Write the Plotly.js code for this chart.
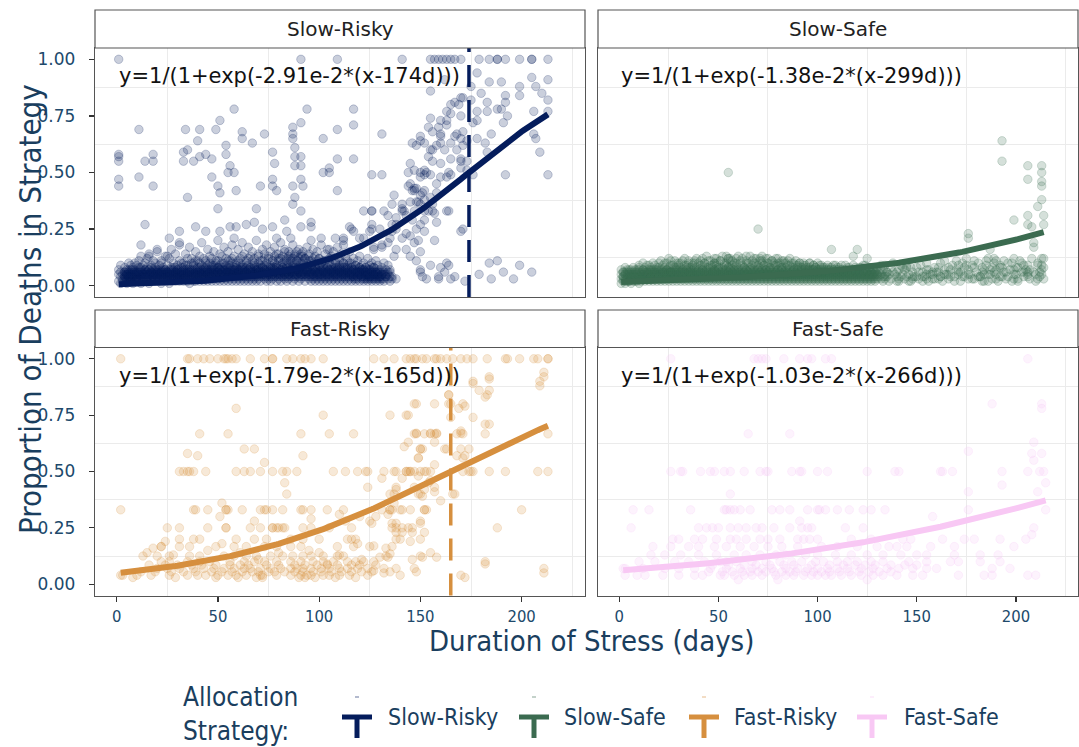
<!DOCTYPE html>
<html><head><meta charset="utf-8">
<script src="https://cdn.plot.ly/plotly-3.0.1.min.js"></script>
<style>html,body{margin:0;padding:0;background:#fff}</style>
</head><body><div id="chart" style="width:1079px;height:747px"></div>
<script>
const strategies = ['Slow-Risky','Slow-Safe','Fast-Risky','Fast-Safe'];
const colors = ['#041C5C','#3B6B50','#D68F3E','#F8C8F4'];
const rateText = ['2.91e-2','1.38e-2','1.79e-2','1.03e-2'];
const rateK = [0.0291,0.0138,0.0179,0.0103];
const midDay = [174,299,165,266];
const xTicks = [0,50,100,150,200];
const yTicks = [0,0.25,0.5,0.75,1];
const yTickLabels = ['0.00','0.25','0.50','0.75','1.00'];

// ---- Slow-Risky: [day, [proportions]] ----
const slowRiskyBand = [
[1,[.02,.05,.07]],[2,[.04,.01,.06,.09]],[3,[.03,.05,.02]],[4,[.06,.04,.08,.02]],[5,[.03,.05,.01,.07]],
[6,[.04,.02,.06,.1]],[7,[.05,.03,.07,.02]],[8,[.04,.06,.01,.08]],[9,[.03,.05,.07,.02]],[10,[.06,.04,.09,.03]],
[11,[.05,.02,.07,.04,.11]],[12,[.03,.06,.08,.01]],[13,[.04,.05,.02,.09]],[14,[.06,.03,.07,.05]],[15,[.02,.04,.08,.06,.12]],
[16,[.05,.03,.07,.01]],[17,[.04,.06,.09,.02]],[18,[.03,.05,.07,.04]],[19,[.06,.02,.08,.05,.1]],[20,[.04,.07,.03,.06]],
[21,[.05,.02,.09,.04]],[22,[.03,.06,.07,.01,.11]],[23,[.05,.04,.08,.02]],[24,[.06,.03,.07,.05]],[25,[.04,.02,.09,.06,.13]],
[26,[.05,.07,.03,.01]],[27,[.04,.06,.08,.02]],[28,[.03,.05,.07,.1]],[29,[.06,.04,.02,.08]],[30,[.05,.03,.07,.09,.04]],
[31,[.04,.06,.02,.11]],[32,[.05,.08,.03,.06]],[33,[.04,.02,.07,.05,.1]],[34,[.06,.03,.09,.04]],[35,[.05,.07,.02,.12]],
[36,[.03,.06,.08,.04,.01]],[37,[.05,.04,.07,.1]],[38,[.06,.02,.09,.03]],[39,[.04,.07,.05,.11,.02]],[40,[.05,.03,.08,.06]],
[41,[.04,.06,.02,.1,.13]],[42,[.05,.07,.03,.09]],[43,[.06,.04,.08,.02]],[44,[.03,.05,.07,.11,.04]],[45,[.06,.02,.09,.05]],
[46,[.04,.07,.03,.1]],[47,[.05,.06,.08,.02,.12]],[48,[.03,.04,.07,.09]],[49,[.06,.05,.02,.1]],[50,[.04,.08,.03,.06,.11]],
[51,[.05,.07,.02,.09]],[52,[.06,.03,.08,.04,.13]],[53,[.05,.02,.07,.1]],[54,[.04,.06,.09,.03]],[55,[.05,.08,.02,.11,.06]],
[56,[.07,.03,.04,.09]],[57,[.05,.06,.02,.1,.12]],[58,[.04,.08,.03,.07]],[59,[.06,.05,.09,.02]],[60,[.04,.07,.03,.11,.06]],
[61,[.05,.08,.02,.1]],[62,[.06,.04,.09,.03,.13]],[63,[.05,.07,.02,.08]],[64,[.04,.06,.1,.03]],[65,[.07,.05,.09,.02,.12]],
[66,[.04,.06,.08,.03]],[67,[.05,.07,.11,.02]],[68,[.06,.04,.09,.03,.1]],[69,[.05,.08,.02,.07]],[70,[.04,.06,.1,.03,.13]],
[71,[.07,.05,.09,.02]],[72,[.04,.08,.06,.11]],[73,[.05,.03,.09,.07,.14]],[74,[.06,.04,.1,.02]],[75,[.05,.08,.03,.12]],
[76,[.07,.04,.09,.06,.02]],[77,[.05,.08,.03,.11]],[78,[.06,.04,.1,.07,.13]],[79,[.05,.09,.02,.08]],[80,[.06,.04,.11,.03,.14]],
[81,[.07,.05,.09,.02,.12]],[82,[.04,.08,.06,.1]],[83,[.05,.03,.11,.07,.15]],[84,[.06,.09,.04,.12,.02]],[85,[.05,.08,.1,.03,.13]],
[86,[.07,.04,.11,.06,.14]],[87,[.05,.09,.02,.12,.08]],[88,[.06,.04,.1,.13,.03]],[89,[.07,.05,.11,.08,.15]],[90,[.04,.09,.06,.12,.02]],
[91,[.05,.08,.1,.03,.14]],[92,[.06,.04,.11,.07,.13]],[93,[.05,.09,.02,.12]],[94,[.07,.04,.1,.06]],[95,[.05,.08,.11,.03,.13]],
[96,[.06,.04,.09,.02]],[97,[.05,.07,.1,.03,.12]],[98,[.06,.04,.08,.02]],[99,[.05,.07,.11,.03]],[100,[.04,.06,.09,.02,.12]],
[101,[.05,.08,.03,.1]],[102,[.06,.04,.09,.02]],[103,[.05,.07,.11,.03]],[104,[.04,.08,.06,.02]],[105,[.05,.03,.1,.07]],
[106,[.06,.04,.09,.02,.12]],[107,[.05,.07,.03,.08]],[108,[.04,.06,.1,.02]],[109,[.05,.08,.03,.07]],[110,[.06,.04,.09,.02,.11]],
[111,[.05,.07,.03,.08]],[112,[.04,.06,.02,.1]],[113,[.05,.08,.03,.06]],[114,[.06,.04,.09,.02]],[115,[.05,.07,.03,.1]],
[116,[.04,.06,.02,.08]],[117,[.05,.03,.07,.04]],[118,[.06,.02,.09,.05]],[119,[.04,.07,.03,.06]],[120,[.05,.02,.08,.06]],
[121,[.04,.06,.03,.07]],[122,[.05,.02,.07,.04]],[123,[.03,.06,.08,.05]],[124,[.05,.02,.04,.07]],[125,[.04,.07,.03,.06]],
[126,[.05,.02,.06,.08]],[127,[.03,.05,.08]],[128,[.04,.02,.06]],[129,[.05,.03,.07]],[130,[.04,.02]],
[131,[.03,.06]],[132,[.05,.02]],[133,[.04,.07]],[134,[.03,.05]],[135,[.02,.06]],[136,[.04]],[138,[.03]]
];
const slowRiskyBand2 = [
[4,[.05,.03,.06,.04]],[5,[.04,.06,.02,.05]],[6,[.05,.03,.07,.04]],[7,[.06,.04,.05,.09]],[8,[.03,.05,.07,.04]],
[9,[.05,.04,.06,.1]],[10,[.04,.06,.03,.05]],[11,[.05,.03,.06,.08]],[12,[.04,.07,.05,.13]],[13,[.06,.03,.05,.04]],
[14,[.05,.04,.07,.1]],[15,[.03,.06,.05,.04]],[16,[.05,.07,.04,.14]],[17,[.06,.03,.05,.08]],[18,[.04,.06,.05,.11]],
[19,[.05,.03,.07,.04]],[20,[.06,.04,.05,.15]],[21,[.03,.06,.07,.05]],[22,[.05,.04,.06,.1]],[23,[.06,.03,.05,.07]],
[24,[.04,.05,.07,.13]],[25,[.05,.06,.03,.04]],[26,[.06,.04,.05,.12]],[27,[.05,.07,.03,.16]],[28,[.04,.06,.05,.08]],
[29,[.05,.03,.06,.14]],[30,[.06,.05,.04,.07]],[31,[.04,.07,.05,.18]],[32,[.05,.04,.06,.1]],[33,[.06,.03,.05,.08]],
[34,[.05,.07,.04,.14]],[35,[.04,.06,.05,.09]],[36,[.06,.05,.07,.17]],[37,[.05,.03,.06,.12]],[38,[.04,.07,.05,.1]],
[39,[.06,.05,.04,.15]],[40,[.05,.07,.06,.11]],[41,[.04,.05,.07,.08]],[42,[.06,.04,.05,.19]],[43,[.05,.07,.03,.12]],
[44,[.04,.06,.08,.1]],[45,[.06,.05,.07,.16]],[46,[.05,.04,.06,.13]],[47,[.07,.05,.04,.09]],[48,[.05,.06,.08,.15]],
[49,[.04,.07,.05,.11]],[50,[.06,.05,.08,.2]],[51,[.05,.04,.07,.14]],[52,[.07,.06,.05,.1]],[53,[.05,.08,.04,.17]],
[54,[.06,.05,.07,.12]],[55,[.04,.07,.06,.15]],[56,[.06,.05,.08,.11]],[57,[.05,.07,.04,.18]],[58,[.07,.06,.05,.13]],
[59,[.05,.08,.04,.1]],[60,[.06,.05,.07,.16]],[61,[.05,.07,.04,.12]],[62,[.07,.06,.08,.19]],[63,[.05,.04,.06,.14]],
[64,[.06,.08,.05,.11]],[65,[.05,.07,.04,.17]],[66,[.07,.06,.08,.13]],[67,[.05,.04,.06,.15]],[68,[.06,.08,.05,.12]],
[69,[.05,.07,.04,.2]],[70,[.07,.06,.08,.14]],[71,[.05,.04,.06,.11]],[72,[.06,.08,.05,.16]],[73,[.05,.07,.04,.12]],
[74,[.07,.06,.08,.18]],[75,[.05,.04,.06,.13]],[76,[.06,.08,.05,.15]],[77,[.05,.07,.04,.11]],[78,[.07,.06,.08,.17]],
[79,[.05,.04,.06,.14]],[80,[.06,.08,.05,.12]],[81,[.05,.07,.04,.19]],[82,[.07,.06,.08,.13]],[83,[.05,.04,.06,.16]],
[84,[.06,.08,.05,.11]],[85,[.05,.07,.04,.15]],[86,[.07,.06,.08,.12]],[87,[.05,.04,.06,.18]],[88,[.06,.08,.05,.14]],
[89,[.05,.07,.04,.11]],[90,[.07,.06,.08,.16]],[91,[.05,.04,.06,.13]],[92,[.06,.08,.05,.15]],[93,[.05,.07,.04,.12]],
[94,[.07,.06,.08,.17]],[95,[.05,.04,.06,.14]],[96,[.06,.08,.05,.11]],[97,[.05,.07,.04,.16]],[98,[.07,.06,.08,.13]],
[99,[.05,.04,.06,.15]],[100,[.06,.08,.05,.12]],[101,[.05,.07,.04,.18]],[102,[.07,.06,.08,.11]],[103,[.05,.04,.06,.14]],
[104,[.06,.08,.05,.16]],[105,[.05,.07,.04,.12]],[106,[.07,.06,.08,.13]],[107,[.05,.04,.06,.15]],[108,[.06,.08,.05,.11]],
[109,[.05,.07,.04,.17]],[110,[.07,.06,.08,.12]],[111,[.05,.04,.06,.14]],[112,[.06,.08,.05,.1]],[113,[.05,.07,.04,.13]],
[114,[.07,.06,.08,.11]],[115,[.05,.04,.06,.15]],[116,[.06,.08,.05,.1]],[117,[.05,.07,.04,.12]],[118,[.07,.06,.03,.09]],
[119,[.05,.04,.06,.11]],[120,[.06,.08,.05,.13]],[121,[.05,.07,.04,.09]],[122,[.07,.06,.03,.1]],[123,[.05,.04,.06,.08]],
[124,[.06,.03,.05,.12]],[125,[.05,.07,.04,.09]],[126,[.04,.06,.03,.1]],[127,[.05,.04,.06,.08]],[128,[.06,.03,.05,.11]],
[129,[.05,.04,.06,.09]],[130,[.04,.06,.03,.07]],[131,[.05,.04,.08]],[132,[.06,.03,.1]],[133,[.05,.04]],[134,[.06,.09]],[135,[.04,.07]]
];
const slowRiskyScatter = [
[1,[1,.58,.57,.55,.47,.44]],[11,[.69,.48]],[12,[.18]],[14,[.55,.27]],[16,[.13]],[18,[.58,.55,.44]],[20,[.16]],
[26,[.21]],[31,[.24,.19]],[33,[.59,.55]],[34,[.69]],[35,[.6,.39]],[38,[.55]],[39,[.26]],[40,[.64]],[41,[.69,.57]],
[44,[.58,.24]],[47,[.56,.48]],[49,[.69]],[50,[.44,.34]],[51,[.73,.41,.24]],[54,[.62,.58]],[55,[.5]],[56,[.53,.26]],
[58,[.78,.5,.21]],[59,[.42,.26]],[62,[.68,.65]],[64,[.27]],[67,[.63]],[68,[.28]],[69,[.34]],[71,[.44]],[72,[.25]],
[73,[.67]],[77,[.59,.47,.44,.26]],[78,[.54]],[79,[.42,.21]],[83,[.29]],[84,[.24]],[86,[.21]],[87,[.7,.67,.65,.44,.36]],
[88,[.61,.57,.53,.39]],[91,[1,.72,.57,.53,.47,.33,.26]],[92,[.44]],[94,[.78]],[96,[.28,.26,.2]],[101,[.21]],
[102,[.65,.5]],[105,[.5,.52,.16]],[108,[.21]],[109,[1,.69,.56,.42]],[112,[.18,.2,.21]],[115,[.26]],[116,[.25]],
[117,[.78,.71,.56,.24]],[120,[.21]],[122,[.33,.21]],[125,[.24]],[126,[.33,.49,.33,.25,.27]],[127,[.16,.17]],
[130,[.25]],[131,[.67,.49,.18,.05,.17]],[132,[.33]],[134,[.19,.31]],[135,[.21]],[136,[.24,.03,.36,.27]],[137,[.13,.4]],
[138,[.3,.16,.25,.27]],[141,[1,.34,.21,.33,.36]],[142,[.33]],[143,[.31,.23,.16]],[144,[.44,.5]],[145,[.54,.37,.22,.13,.45]],
[146,[.63,.42,.29]],[147,[.51,.43,.33,.19,.42]],[148,[.62,.25,.37,.43,.11]],[149,[.37,.2]],
[150,[.64,.48,.4,.27,.15,.06,.66,.5,.36,.07]],[151,[.41,.04]],[152,[.63,.49,.42,.33,.51,.38,.29,.24]],[153,[.03,.5]],
[154,[.57,.7,.33]],[155,[1,.86,.74,.6,.49,.39,.09]],[156,[.55,.68,.33,.36,.6]],[157,[1,.2,.32]],[158,[.62,.45,.28,.41]],
[159,[1,.03,.7,.04]],[160,[.73,.66,.54,.48,.67,.63,.08]],[161,[1]],[162,[.91,.6,.06]],
[163,[1,.77,.71,.48,.33,.1,.73]],[164,[.33,.5,.09]],[165,[1,.8,.56,.49,.03,.76,.63]],[167,[1,.81,.66,.04]],[168,[.67,.6]],
[169,[.8]],[170,[1,.83,.75,.65,.56,.52,.24,.55]],[171,[.68,.62,.83,.25]],[172,[.02]],[173,[.64,.55,.51]],
[175,[.88,.82]],[176,[.72,.49]],[178,[.94,.77,.73,.65]],[179,[1,.05]],[180,[.85]],[182,[.63]],[183,[.81,.77,.59]],
[184,[1,.9,.1]],[185,[.67,.03]],[188,[1,1,.78,.11]],[190,[.9,.78]],[191,[.72,.06]],[192,[1,.84,.81,.49]],[193,[.75]],
[196,[.03]],[199,[1,.88,.84,.09]],[205,[1,1,.92,.06]],[206,[.77,.67]],[207,[.88,.65]],[209,[.59]],[210,[.85]],
[213,[1,.91,.82,.77,.49]]
];

// ---- Slow-Safe ----
const slowSafeBand = [
[1,[.03,.05,.01,.07]],[2,[.04,.02,.06]],[3,[.05,.03,.08,.01]],[4,[.02,.04,.06]],[5,[.05,.03,.07,.02]],
[6,[.04,.06,.01]],[7,[.03,.05,.08,.02]],[8,[.04,.06,.03]],[9,[.02,.05,.07,.04]],[10,[.03,.06,.01,.08]],
[11,[.05,.02,.04]],[12,[.06,.03,.07,.05]],[13,[.04,.02,.08]],[14,[.05,.03,.06,.09]],[15,[.02,.04,.07]],
[16,[.05,.06,.03,.08]],[17,[.04,.02,.07]],[18,[.05,.03,.09,.06]],[19,[.04,.07,.02]],[20,[.05,.03,.08,.06,.1]],
[21,[.04,.02,.07]],[22,[.06,.05,.03,.09]],[23,[.04,.08,.02,.06]],[24,[.05,.03,.07,.1]],[25,[.04,.06,.02,.08]],
[26,[.05,.03,.09,.06,.11]],[27,[.04,.07,.02]],[28,[.06,.03,.08,.05]],[29,[.04,.02,.07,.1]],[30,[.05,.06,.03,.09]],
[31,[.04,.08,.02,.06]],[32,[.05,.03,.07,.11]],[33,[.06,.04,.02,.09]],[34,[.05,.07,.03,.08]],[35,[.04,.06,.02,.1]],
[36,[.05,.03,.08,.06]],[37,[.04,.07,.02,.09]],[38,[.06,.05,.03,.11]],[39,[.04,.08,.02,.06]],[40,[.05,.03,.07,.1]],
[41,[.06,.04,.02,.09]],[42,[.05,.07,.03,.08,.12]],[43,[.04,.06,.02,.1]],[44,[.05,.03,.08,.06]],[45,[.04,.07,.02,.11]],
[46,[.06,.05,.03,.09]],[47,[.04,.08,.02,.06]],[48,[.05,.03,.07,.1]],[49,[.06,.04,.02,.09,.12]],[50,[.05,.07,.03,.08]],
[51,[.04,.06,.02,.11]],[52,[.05,.03,.08,.06]],[53,[.04,.07,.02,.1]],[54,[.06,.05,.03,.09,.13]],[55,[.04,.08,.02,.06]],
[56,[.05,.03,.07,.11]],[57,[.06,.04,.02,.09]],[58,[.05,.07,.03,.08]],[59,[.04,.06,.02,.1,.12]],[60,[.05,.03,.08,.06]],
[61,[.04,.07,.02,.11]],[62,[.06,.05,.03,.09]],[63,[.04,.08,.02,.06]],[64,[.05,.03,.07,.1,.13]],[65,[.06,.04,.02,.09]],
[66,[.05,.07,.03,.08]],[67,[.04,.06,.02,.11]],[68,[.05,.03,.08,.06,.12]],[69,[.04,.07,.02,.1]],[70,[.06,.05,.03,.09]],
[71,[.04,.08,.02,.06]],[72,[.05,.03,.07,.11,.13]],[73,[.06,.04,.02,.09]],[74,[.05,.07,.03,.08]],[75,[.04,.06,.02,.1,.12]],
[76,[.05,.03,.08,.06]],[77,[.04,.07,.02,.11]],[78,[.06,.05,.03,.09]],[79,[.04,.08,.02,.06,.12]],[80,[.05,.03,.07,.1]],
[81,[.06,.04,.02,.09]],[82,[.05,.07,.03,.08,.11]],[83,[.04,.06,.02,.1]],[84,[.05,.03,.08,.06]],[85,[.04,.07,.02,.11]],
[86,[.06,.05,.03,.09]],[87,[.04,.08,.02,.06]],[88,[.05,.03,.07,.1]],[89,[.06,.04,.02,.09]],[90,[.05,.07,.03,.08]],
[91,[.04,.06,.02,.1]],[92,[.05,.03,.08,.06]],[93,[.04,.07,.02,.09]],[94,[.06,.05,.03,.08]],[95,[.04,.07,.02,.06]],
[96,[.05,.03,.08,.1]],[97,[.06,.04,.02,.07]],[98,[.05,.07,.03,.09]],[99,[.04,.06,.02,.08]],[100,[.05,.03,.07,.06]],
[101,[.04,.06,.02,.09]],[102,[.06,.05,.03,.08]],[103,[.04,.07,.02,.06]],[104,[.05,.03,.08]],[105,[.06,.04,.02,.07]],
[106,[.05,.07,.03]],[107,[.04,.06,.02,.08]],[108,[.05,.03,.07]],[109,[.06,.04,.02,.09]],[110,[.05,.07,.03]],
[111,[.04,.06,.02,.08]],[112,[.05,.03,.07]],[113,[.06,.04,.02]],[114,[.05,.07,.03,.09]],[115,[.04,.06,.02]],
[116,[.05,.03,.08]],[117,[.04,.06,.02]],[118,[.05,.07,.03]],[119,[.04,.06,.02,.08]],[120,[.05,.03,.07]],
[121,[.04,.06,.02]],[122,[.05,.03,.08]],[123,[.04,.06,.02]],[124,[.05,.07,.03]],[125,[.04,.02,.06]],
[126,[.05,.03,.08]],[127,[.04,.06,.02]],[128,[.05,.03,.07]],[129,[.04,.02,.06]],[130,[.05,.03,.08]],
[131,[.04,.06]],[132,[.03,.05]],[133,[.04,.07,.02]],[134,[.05,.03]],[135,[.04,.06]],
[137,[.03,.08]],[139,[.05]],[140,[.02,.06]],[142,[.04,.09]],[144,[.03,.07]],[146,[.05]],[147,[.02,.08]],[149,[.04]],
[151,[.06,.03]],[152,[.09]],[154,[.04]],[156,[.07,.02]],[157,[.05]],[159,[.03,.08]],[160,[.06]],[162,[.04,.1]],
[163,[.02]],[164,[.07]],[166,[.05,.03]],[168,[.09]],[169,[.04]],[170,[.07]],[172,[.02,.06]],[174,[.08,.04]],
[175,[.12]],[177,[.05]],[178,[.03,.09]],[180,[.06]],[181,[.1]],[182,[.04]],[184,[.07,.02]],[185,[.11]],[186,[.05]],
[188,[.03,.08]],[189,[.1]],[190,[.05]],[191,[.02]],[192,[.09,.04]],[194,[.06,.11]],[195,[.03]],[197,[.07]],
[198,[.02,.1]],[200,[.05,.08]],[201,[.03]],[202,[.11]],[203,[.06]],[204,[.04,.09]],[207,[.03,.07]],[208,[.12]],
[210,[.05,.02]],[211,[.09]],[212,[.06,.04]],[214,[.08]]
];
const slowSafeBand2 = [
[2,[.04,.06,.03]],[3,[.05,.02,.06]],[4,[.03,.05,.07]],[5,[.04,.06,.02,.05]],[6,[.05,.03,.07,.04]],[7,[.04,.06,.05]],
[8,[.05,.02,.07,.04]],[9,[.03,.06,.05]],[10,[.05,.04,.07,.09]],[11,[.06,.03,.05,.04]],[12,[.04,.07,.05,.1]],
[13,[.05,.06,.03,.04]],[14,[.04,.05,.07,.06]],[15,[.06,.03,.05,.09]],[16,[.04,.07,.05,.04]],[17,[.05,.06,.03,.1]],
[18,[.04,.05,.07,.06]],[19,[.06,.03,.05,.08]],[20,[.04,.07,.05,.04]],[21,[.05,.06,.03,.11]],[22,[.04,.05,.07,.06]],
[23,[.06,.03,.05,.1]],[24,[.04,.07,.05,.06]],[25,[.05,.06,.03,.12]],[26,[.04,.05,.07,.06]],[27,[.06,.03,.05,.09]],
[28,[.04,.07,.05,.11]],[29,[.05,.06,.03,.08]],[30,[.04,.05,.07,.06]],[31,[.06,.03,.05,.1]],[32,[.04,.07,.05,.06]],
[33,[.05,.06,.03,.12]],[34,[.04,.05,.07,.09]],[35,[.06,.03,.05,.11]],[36,[.04,.07,.05,.06]],[37,[.05,.06,.03,.1]],
[38,[.04,.05,.07,.08]],[39,[.06,.03,.05,.12]],[40,[.04,.07,.05,.06]],[41,[.05,.06,.03,.11]],[42,[.04,.05,.07,.09]],
[43,[.06,.03,.05,.1]],[44,[.04,.07,.05,.13]],[45,[.05,.06,.03,.08]],[46,[.04,.05,.07,.11]],[47,[.06,.03,.05,.09]],
[48,[.04,.07,.05,.12]],[49,[.05,.06,.03,.1]],[50,[.04,.05,.07,.08]],[51,[.06,.03,.05,.11]],[52,[.04,.07,.05,.13]],
[53,[.05,.06,.03,.09]],[54,[.04,.05,.07,.1]],[55,[.06,.03,.05,.12]],[56,[.04,.07,.05,.08]],[57,[.05,.06,.03,.11]],
[58,[.04,.05,.07,.1]],[59,[.06,.03,.05,.09]],[60,[.04,.07,.05,.13]],[61,[.05,.06,.03,.1]],[62,[.04,.05,.07,.12]],
[63,[.06,.03,.05,.08]],[64,[.04,.07,.05,.11]],[65,[.05,.06,.03,.1]],[66,[.04,.05,.07,.13]],[67,[.06,.03,.05,.09]],
[68,[.04,.07,.05,.1]],[69,[.05,.06,.03,.12]],[70,[.04,.05,.07,.08]],[71,[.06,.03,.05,.11]],[72,[.04,.07,.05,.1]],
[73,[.05,.06,.03,.09]],[74,[.04,.05,.07,.12]],[75,[.06,.03,.05,.1]],[76,[.04,.07,.05,.08]],[77,[.05,.06,.03,.11]],
[78,[.04,.05,.07,.1]],[79,[.06,.03,.05,.09]],[80,[.04,.07,.05,.12]],[81,[.05,.06,.03,.1]],[82,[.04,.05,.07,.08]],
[83,[.06,.03,.05,.11]],[84,[.04,.07,.05,.1]],[85,[.05,.06,.03,.09]],[86,[.04,.05,.07,.12]],[87,[.06,.03,.05,.1]],
[88,[.04,.07,.05,.08]],[89,[.05,.06,.03,.11]],[90,[.04,.05,.07,.09]],[91,[.06,.03,.05,.1]],[92,[.04,.07,.05,.08]],
[93,[.05,.06,.03,.1]],[94,[.04,.05,.07,.09]],[95,[.06,.03,.05,.08]],[96,[.04,.07,.05,.1]],[97,[.05,.06,.03,.07]],
[98,[.04,.05,.07,.09]],[99,[.06,.03,.05,.08]],[100,[.04,.07,.05,.1]],[101,[.05,.06,.03,.07]],[102,[.04,.05,.07,.09]],
[103,[.06,.03,.05,.08]],[104,[.04,.07,.05,.06]],[105,[.05,.06,.03,.09]],[106,[.04,.05,.07,.08]],[107,[.06,.03,.05]],
[108,[.04,.07,.05,.09]],[109,[.05,.06,.03]],[110,[.04,.05,.07,.08]],[111,[.06,.03,.05]],[112,[.04,.07,.05,.09]],
[113,[.05,.06,.03]],[114,[.04,.05,.07]],[115,[.06,.03,.05,.08]],[116,[.04,.07,.05]],[117,[.05,.06,.03]],
[118,[.04,.05,.07,.09]],[119,[.06,.03,.05]],[120,[.04,.07,.05]],[121,[.05,.06,.03,.08]],[122,[.04,.05,.07]],
[123,[.06,.03,.05]],[124,[.04,.07,.05,.09]],[125,[.05,.06,.03]],[126,[.04,.05,.07]],[127,[.06,.03,.05,.08]],
[128,[.04,.07,.05]],[129,[.05,.06,.03]],[130,[.04,.05,.07]],
[132,[.07]],[134,[.04,.09]],[136,[.05,.02]],[138,[.06,.1]],[141,[.03,.07]],[143,[.05]],[145,[.04,.09]],[148,[.06,.03]],
[150,[.08]],[153,[.04,.02]],[155,[.07,.1]],[158,[.05]],[161,[.03,.08]],[164,[.05,.11]],[167,[.04,.07]],[169,[.02]],
[171,[.06,.09]],[173,[.04]],[176,[.05,.03]],[179,[.08,.11]],[181,[.04]],[183,[.06,.02]],[185,[.09]],[187,[.05,.07]],
[190,[.11]],[193,[.04,.08]],[195,[.06]],[196,[.1]],[199,[.05]],[201,[.08,.02]],[203,[.1]],[205,[.07]],[206,[.09,.04]],
[209,[.06]],[211,[.03,.1]],[213,[.05,.12]]
];
const slowSafeScatter = [
[26,[.06]],[30,[.1]],[35,[.08]],[38,[.1]],[48,[.1,.06]],[55,[.5,.12,.08]],[56,[.12]],[70,[.25]],[71,[.12]],
[107,[.16]],[118,[.13]],[120,[.16]],[123,[.09]],[125,[.12]],[126,[.08]],[132,[.09]],[135,[.06]],[140,[.04]],
[141,[.02]],[143,[.08]],[145,[.08]],[146,[.02]],[148,[.04]],[150,[.04]],[153,[.06]],[155,[.05,.03]],
[158,[.06,.03]],[161,[.06]],[162,[.04]],[165,[.05]],[166,[.08]],[170,[.11]],[171,[.05]],[173,[.1]],[175,[.09]],
[176,[.23,.21,.07]],[179,[.03]],[182,[.04]],[183,[.08]],[184,[.05]],[186,[.12,.02]],[187,[.16]],[189,[.12,.06]],
[190,[.07,.03]],[192,[.08]],[193,[.64,.55]],[196,[.04]],[199,[.29,.12,.07,.03]],[204,[.06]],
[206,[.53,.47,.31,.27,.06,.05]],[208,[.26]],[209,[.19,.17]],[211,[.35]],[213,[.53,.5,.46,.44,.38,.09,.07]],
[214,[.31,.27,.12,.03]]
];

// ---- Fast-Risky ----
const fastRiskyPts = [
[2,[1,.33,.04]],[3,[.04]],[8,[.03]],[10,[.04]],[12,[.055]],[13,[.125]],[15,[.14]],[16,[.085]],[17,[.04]],
[18,[.16]],[19,[.055]],[20,[.125,.07]],[22,[.167,.167,.1]],[24,[.19,.085]],[25,[.25,.07]],[26,[.125,.1,.04]],
[27,[.055]],[28,[.13]],[29,[.03]],[30,[.085]],[31,[.5,.25,.2,.167,.07]],[33,[.5,.055]],[35,[1,.58,.5,.1,.04]],
[36,[1,.5,.167,.125]],[37,[.085]],[38,[.5,.33,.2,.07]],[39,[.33,.055]],[40,[1,.57,.04]],[41,[.667,.2,.125,.1]],
[42,[.085]],[43,[1,.07]],[44,[.5,.04]],[45,[.33,.25,.15]],[46,[1,.1]],[47,[.055]],[48,[.07]],[49,[.167,.085,.03]],
[50,[1,.04]],[51,[.3]],[52,[.36,.18,.055]],[53,[1,.125,.07]],[54,[1,.33,.33,.25,.25]],[55,[1,.667,.33,.04]],
[56,[.1,.085]],[57,[1,.055]],[58,[.167,.125,.07]],[59,[1,.78,.5,.2,.04]],[60,[.03]],[61,[.14,.085]],
[62,[.33,.055]],[63,[.6,.5,.1,.07]],[64,[.167,.125,.04]],[65,[.085]],[66,[1,.5,.25,.07]],[67,[.055]],
[68,[.6,.28,.2,.1]],[69,[.125,.03]],[70,[.11,.055]],[71,[.5,.33,.25,.07,.04]],[72,[.04,.03]],[73,[1,.54,.33,.167,.1]],
[74,[.33,.2,.085]],[75,[.055]],[76,[.125,.07]],[77,[1,1,.5,.33,.25,.25]],[78,[.055]],[79,[.25,.167,.1,.04]],
[80,[.25,.14,.085]],[81,[.07]],[82,[.5,.33,.25,.125]],[83,[.25,.45,.055]],[84,[1,.5,.4]],[86,[.2,.167,.1,.07,.04]],
[87,[1,.125]],[88,[.055,.085]],[89,[.5,.07]],[90,[.03]],[91,[1,.667,.33,.167,.1,.04]],[92,[.57,.33,.25,.2,.125,.07,.055]],
[93,[1,.085,.03]],[94,[.04]],[95,[.15]],[96,[1,.33,.29,.25,.125,.07,.04]],[97,[.1,.055]],[98,[.03]],[99,[.085]],
[100,[.2,.14]],[101,[.07,.055]],[102,[1,.75,.125,.1,.04]],[104,[.33,.09,.085]],[105,[.667,.25,.07,.04]],
[106,[.055]],[107,[.5,.1]],[108,[.03]],[109,[.167,.125,.085]],[110,[.31,.13,.07,.04]],[111,[.055]],
[112,[.33,.125]],[113,[.5,.28]],[114,[.2,.1,.07]],[115,[.04]],[116,[.25,.2,.085,.055]],[117,[.667,.167]],
[118,[.2,.1,.03]],[119,[.5,.18,.07]],[120,[.3,.085]],[121,[.11,.055]],[122,[.1]],[123,[.5]],[124,[.5,.43,.07,.04]],
[125,[.167,.28]],[126,[.27,.055]],[127,[1,.17,.1,.06]],[128,[.3,.085]],[130,[.12]],[131,[.47,.33]],
[132,[1,.5,.07,.05]],[133,[.125,.16]],[134,[.31,.12]],[135,[.75,.4,.33,.33,.135,.055]],[136,[.25,.167,.27,.33]],
[137,[1,.5,.36,.4]],[138,[.5,.43,.25,.2,.07,.27,.42,.23]],[140,[.33,.2,.04]],[141,[.25,.23,.47,.33]],
[142,[.61]],[143,[1,.75,.5,.5]],[144,[.63,.5,.25,.75]],[145,[1,.5,.33,.19,.5]],[146,[.25,.11,.23]],
[147,[1,.8,.667,.5,.07,.43]],[148,[1,.667,.8,.67,.055]],[149,[.56,.4,.48,.56]],[150,[.5,.28,.2,.125,.6,.4,.27,.6]],
[151,[1,.6,.39,.12]],[152,[.667,.5,.33,.42,.23,.33]],[153,[1,.33,.5]],[154,[.45]],[155,[.667,.5,.46,.14,.67]],
[157,[1,.667,.8,.53,.43,.41,.63]],[158,[1,.667,.12,.67]],[160,[1,.37]],[162,[.6]],[163,[1,.6]],
[164,[.84,.8,.84]],[165,[.74,.8]],[166,[1,.4]],[167,[.4]],[168,[.667,.57]],[169,[.78]],[170,[1,.68,.6,.04,.67]],
[171,[.667,.5,.56,.8]],[172,[.79,.57,.03]],[173,[1]],[174,[.6,.5]],[175,[.5]],[176,[1,.89,.74,.5,.9]],
[179,[.86]],[182,[.83,.667,.1,.09,.71]],[183,[1,.84]],[184,[.91,.86,.71,.5,.92]],[188,[.25]],[192,[1,.5]],
[193,[1]],[199,[1]],[200,[.33]],[206,[1]],[208,[1,.5]],[209,[.88,.9]],[211,[.92,.94,.07,.05]],[213,[1,1,.667,.5]]
];

// ---- Fast-Safe ----
const fastSafePts = [
[2,[.07]],[3,[.07,.04]],[6,[.25]],[7,[.33]],[9,[.04]],[10,[.1]],[12,[.07]],[13,[.04]],[15,[.33]],[16,[.13]],
[17,[.167]],[18,[.1]],[22,[.04]],[23,[.13,.07]],[26,[1,.5,.167]],[27,[.2]],[28,[.1]],[30,[.2,.07,.04]],
[31,[.5,.13]],[32,[.5]],[35,[.167,.1]],[36,[.33]],[38,[.2,.07,.04]],[40,[.25,.167,.13]],[41,[.5]],[42,[.2,.04]],
[43,[.1]],[44,[.25]],[45,[.055]],[46,[.5,.07]],[47,[.25,.085]],[48,[.5,.167]],[49,[.2,.13]],[50,[.25]],
[51,[.1,.04]],[52,[.055]],[53,[.5,.33,.04]],[54,[.33,.167,.1,.07]],[55,[.085]],[56,[.5,.4,.33,.25,.2]],
[57,[.055]],[58,[.33,.13,.04]],[59,[.2,.1]],[60,[.25,.02]],[61,[.33,.167,.07]],[62,[.055]],[63,[.5,.04,.085]],
[64,[.25,.2,.13]],[65,[.667]],[66,[.33,.055]],[67,[.1,.07,.04]],[68,[1,.167]],[69,[.25,.085]],[70,[1,.055]],
[71,[.5,.2,.13]],[72,[1,.25,.07,.04]],[74,[1,.5,.1,.055]],[75,[.5,.2,.167]],[76,[.085]],[77,[.33,.07]],
[78,[.25,.055]],[79,[.13,.04]],[80,[.02]],[81,[.33,.2,.1]],[82,[.167,.055]],[83,[1,.085]],[84,[.13,.07,.04]],
[86,[.667,.33,.25,.055]],[87,[.5,.1]],[88,[.04,.085]],[89,[.055]],[90,[.2,.167,.07]],[91,[1,.5,.28]],
[92,[.5,.25,.1]],[93,[.2,.04]],[94,[.13,.055]],[95,[1,.33,.25,.07]],[96,[.2]],[97,[1,.25,.04,.085]],
[98,[.055]],[99,[.1]],[100,[.5,.33,.2,.13,.07,.04]],[101,[.33]],[102,[.167,.055]],[103,[.1]],[104,[1,.33,.04]],
[105,[.5,.07]],[106,[.055,.085]],[107,[1,.04]],[109,[.13]],[110,[.33,.167,.1,.07]],[111,[.055]],[112,[.04]],
[113,[.085]],[114,[.25]],[115,[.1,.07]],[116,[.33,.055]],[117,[.2,.13,.04]],[119,[.085]],[120,[.167,.1]],
[121,[.055]],[122,[.07,.04]],[123,[.33,.25]],[124,[.085]],[125,[.5,.13,.02]],[126,[.055]],[127,[.33,.2,.1]],
[128,[.07,.04]],[129,[.085]],[130,[.167]],[131,[.055]],[133,[.13,.1,.04]],[134,[.33]],[135,[.07]],
[136,[.167]],[137,[.055,.085]],[139,[.5]],[140,[.167,.04]],[141,[.5,.07]],[142,[.13]],[143,[.2]],[144,[.085]],
[145,[.167]],[146,[.1]],[147,[.2]],[148,[.07,.04]],[150,[.13,.085]],[153,[.04]],[155,[.13,.1,.07]],[157,[.167]],
[158,[.3]],[160,[.07]],[162,[.5]],[163,[.5,.2]],[167,[.1]],[168,[.5]],[169,[.167,.13]],[171,[.1,.04]],
[174,[.2]],[176,[.59,.41,.33]],[179,[.2]],[182,[.13,.1]],[184,[.04]],[188,[.8,.07,.04]],[191,[.13]],
[192,[.2,.1]],[193,[.5,.44]],[197,[.07]],[199,[.167]],[205,[.2]],[206,[1,.5,.04]],[208,[.58,.22]],
[209,[.63,.55,.25]],[210,[.04]],[211,[.41]],[212,[.5]],[213,[.8,.78,.58]],[214,[.5]],[215,[.45,.33]]
];

const seriesGroups = [
  slowRiskyBand.concat(slowRiskyBand2, slowRiskyScatter),
  slowSafeBand.concat(slowSafeBand2, slowSafeScatter),
  fastRiskyPts,
  fastSafePts
];
const pointAlpha = [0.21,0.21,0.2,0.22];

function expand(groups){const x=[],y=[];groups.forEach(g=>g[1].forEach(v=>{x.push(g[0]);y.push(v);}));return {x:x,y:y};}
function hexA(hex,a){const n=parseInt(hex.slice(1),16);return 'rgba('+(n>>16)+','+((n>>8)&255)+','+(n&255)+','+a+')';}

const W=1079,H=747;
const px=v=>v/W, py=v=>1-v/H;
const xDom=[[95/W,585/W],[598/W,1078/W],[95/W,585/W],[598/W,1078/W]];
const yDom=[[py(297),py(48)],[py(297),py(48)],[py(595.5),py(347.5)],[py(595.5),py(347.5)]];
const stripTop=[10,10,310,310];
const xRange=[-10.7,231.3], yRange=[-0.05,1.05];

const tickColor='#20496B', titleColor='#1A3E5E';
const condensed="'DejaVu Sans Condensed','Liberation Sans Narrow','Roboto Condensed','DejaVu Sans'";

const traces=[]; const shapes=[]; const annotations=[];
const layout={width:W,height:H,margin:{l:0,r:0,t:0,b:0},paper_bgcolor:'#fff',plot_bgcolor:'#fff',
  showlegend:false,font:{family:'DejaVu Sans',color:tickColor}};

strategies.forEach((name,i)=>{
  const sfx = i===0?'':String(i+1);
  const xa='x'+sfx, ya='y'+sfx;
  const pts=expand(seriesGroups[i]);
  traces.push({type:'scatter',mode:'markers',x:pts.x,y:pts.y,xaxis:xa,yaxis:ya,hoverinfo:'skip',
    marker:{size:8.5,color:hexA(colors[i],pointAlpha[i]),line:{width:1,color:hexA(colors[i],pointAlpha[i])}}});
  // fitted logistic curve drawn from the displayed model parameters
  const minD=Math.min.apply(null,pts.x), maxD=Math.max.apply(null,pts.x);
  const cx=[],cy=[];
  for(let d=minD; d<=maxD; d+=1){cx.push(d);cy.push(1/(1+Math.exp(-rateK[i]*(d-midDay[i]))));}
  traces.push({type:'scatter',mode:'lines',x:cx,y:cy,xaxis:xa,yaxis:ya,hoverinfo:'skip',
    line:{color:colors[i],width:6}});
  const bottom=i>=2, left=i%2===0;
  layout['xaxis'+sfx]={domain:xDom[i],anchor:ya,range:xRange,showgrid:false,zeroline:false,
    showline:true,mirror:true,linecolor:'#555',linewidth:1.2,
    tickmode:'array',tickvals:xTicks,ticktext:xTicks.map(String),
    showticklabels:bottom,ticks:bottom?'outside':'',ticklen:5,tickwidth:1.2,tickcolor:'#333',
    tickfont:{family:condensed,size:16.5,color:tickColor},
    minor:{tickmode:'linear',tick0:25,dtick:50,showgrid:true,gridcolor:'#EBEBEB',gridwidth:1,ticks:''}};
  layout['yaxis'+sfx]={domain:yDom[i],anchor:xa,range:yRange,showgrid:false,zeroline:false,
    showline:true,mirror:true,linecolor:'#555',linewidth:1.2,
    tickmode:'array',tickvals:yTicks,ticktext:yTickLabels,
    showticklabels:left,ticks:left?'outside':'',ticklen:5,tickwidth:1.2,tickcolor:'#333',ticklabelstandoff:10,
    tickfont:{family:'DejaVu Sans',size:17,color:tickColor},
    minor:{tickmode:'linear',tick0:0.125,dtick:0.25,showgrid:true,gridcolor:'#EBEBEB',gridwidth:1,ticks:''}};
  if(midDay[i]>=xRange[0]&&midDay[i]<=xRange[1]){
    shapes.push({type:'line',xref:xa,yref:ya+' domain',x0:midDay[i],x1:midDay[i],y0:0,y1:1,
      line:{color:colors[i],width:3.5,dash:'22px,13px'}});
  }
  // strip
  shapes.push({type:'rect',xref:'paper',yref:'paper',x0:xDom[i][0],x1:xDom[i][1],y0:yDom[i][1],y1:py(stripTop[i]),
    fillcolor:'#fff',line:{color:'#555',width:1.2}});
  annotations.push({xref:'paper',yref:'paper',x:(xDom[i][0]+xDom[i][1])/2,y:(yDom[i][1]+py(stripTop[i]))/2,
    text:name,showarrow:false,font:{family:'DejaVu Sans',size:20,color:'#222'},xanchor:'center',yanchor:'middle'});
  annotations.push({xref:xa,yref:ya,x:0,y:0.925,xanchor:'left',yanchor:'middle',showarrow:false,
    text:'y=1/(1+exp(-'+rateText[i]+'*(x-'+midDay[i]+'d)))',font:{family:'DejaVu Sans',size:21,color:'#111'}});
});

// axis titles
annotations.push({xref:'paper',yref:'paper',x:px(591),y:py(641),text:'Duration of Stress (days)',showarrow:false,
  xanchor:'center',yanchor:'middle',font:{family:condensed,size:29,color:titleColor}});
annotations.push({xref:'paper',yref:'paper',x:px(30),y:py(309),text:'Proportion of Deaths in Strategy',showarrow:false,
  textangle:-90,xanchor:'center',yanchor:'middle',font:{family:condensed,size:31,color:titleColor}});

// legend (drawn manually)
annotations.push({xref:'paper',yref:'paper',x:px(181),y:py(714),text:'Allocation<br>Strategy:',showarrow:false,
  xanchor:'left',yanchor:'middle',align:'left',font:{family:condensed,size:26,color:titleColor}});
const keyCenters=[357,534,704,872], labelX=[386,562,732,902];
strategies.forEach((name,i)=>{
  const c=keyCenters[i];
  shapes.push({type:'line',xref:'paper',yref:'paper',x0:px(c-15),x1:px(c+15),y0:py(717),y1:py(717),line:{color:colors[i],width:5}});
  shapes.push({type:'line',xref:'paper',yref:'paper',x0:px(c),x1:px(c),y0:py(717),y1:py(738),line:{color:colors[i],width:5}});
  shapes.push({type:'line',xref:'paper',yref:'paper',x0:px(c-2),x1:px(c+2),y0:py(697),y1:py(697),line:{color:hexA(colors[i],0.3),width:2}});
  annotations.push({xref:'paper',yref:'paper',x:px(labelX[i]),y:py(717),text:name,showarrow:false,
    xanchor:'left',yanchor:'middle',font:{family:condensed,size:23,color:titleColor}});
});

layout.shapes=shapes; layout.annotations=annotations;
Plotly.newPlot('chart',traces,layout,{displayModeBar:false,staticPlot:true});
</script></body></html>
